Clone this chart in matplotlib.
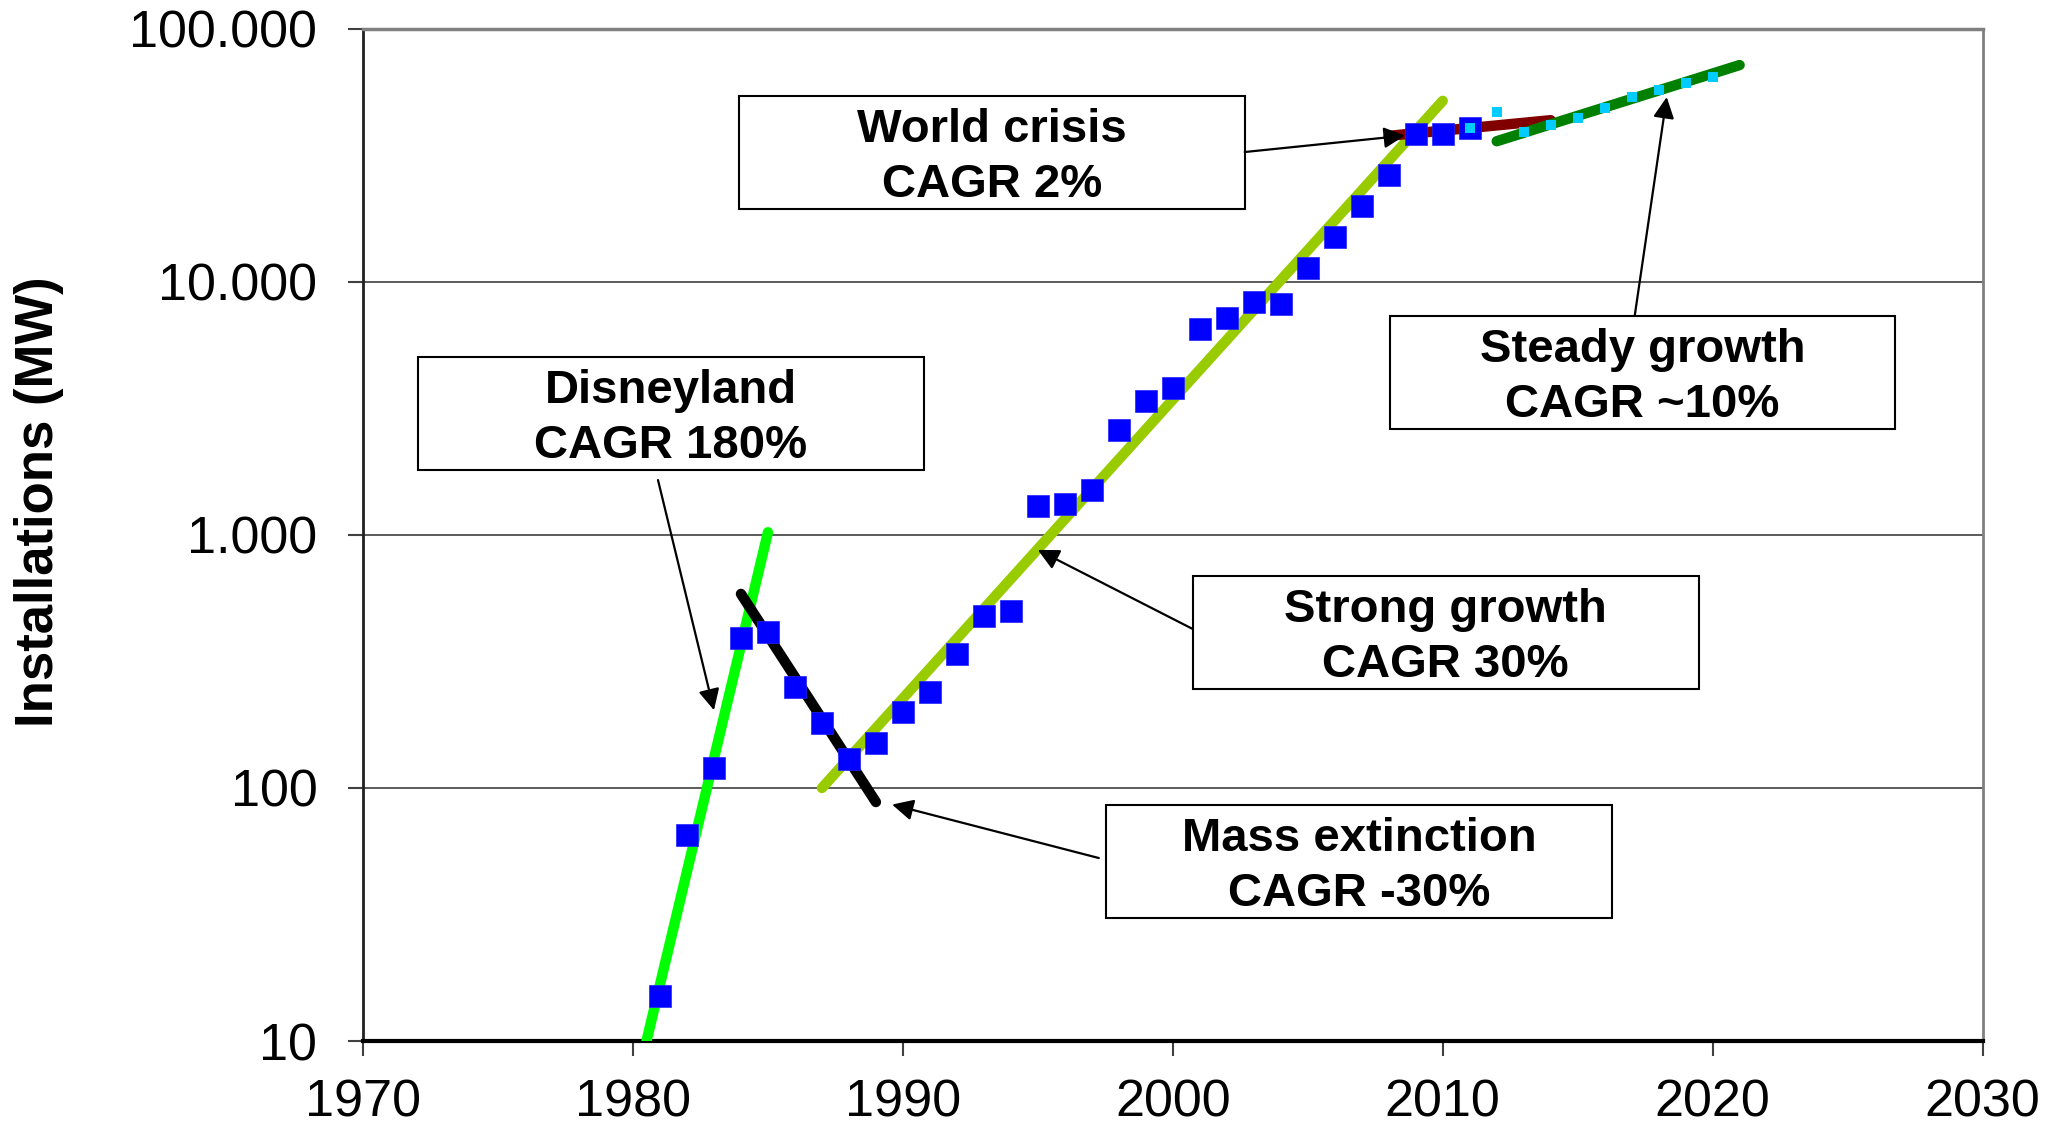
import matplotlib.pyplot as plt
from matplotlib.patches import Rectangle

# font: Arial look-alike
plt.rcParams['font.family'] = ['Liberation Sans', 'DejaVu Sans']

# installed capacity per year (MW)
years = list(range(1981, 2012))
installs = [15, 65, 120, 390, 415, 250, 180, 130, 150, 200,
            240, 340, 480, 500, 1300, 1320, 1500, 2600, 3400, 3800,
            6500, 7200, 8300, 8200, 11400, 15000, 20000, 26500, 38400, 38500,
            40600]

# forecast points
fc_years = list(range(2011, 2021))
fc_values = [40500, 47000, 39000, 41600, 44600, 48700, 53800, 57500, 61300, 64500]

# trend lines (start year, end year, start value, end value)
trend_names = ["Disneyland", "Mass extinction", "Strong growth", "World crisis", "Steady growth"]
trend_x0 = [1980.5, 1984.0, 1987.0, 2008.0, 2012.0]
trend_x1 = [1985.0, 1989.0, 2010.0, 2014.0, 2021.0]
trend_y0 = [10, 585, 100, 37800, 36000]
trend_y1 = [1025, 88, 52000, 43600, 72000]
trend_colors = ["#00ff00", "#000000", "#99cc00", "#800000", "#008000"]

# annotation boxes
box_texts = ["Disneyland\nCAGR 180%", "Mass extinction\nCAGR -30%",
             "Strong growth\nCAGR 30%", "World crisis\nCAGR 2%",
             "Steady growth\nCAGR ~10%"]
box_centers = [(0.1901, 0.6201), (0.6151, 0.1774), (0.6685, 0.4037),
               (0.3883, 0.878), (0.7901, 0.6606)]
arrow_from = [(0.1821, 0.5543), (0.4543, 0.1808), (0.5123, 0.4071),
              (0.5444, 0.8784), (0.7852, 0.7164)]
arrow_to = [(1983.0, 203), (1989.6, 86), (1995.0, 873),
            (2008.6, 37900), (2018.3, 53800)]

y_ticks = [10, 100, 1000, 10000, 100000]
y_labels = ["10", "100", "1.000", "10.000", "100.000"]
x_ticks = [1970, 1980, 1990, 2000, 2010, 2020, 2030]

fig = plt.figure(figsize=(20.63, 11.27), dpi=100)
ax = fig.add_axes([0.176, 0.0763, 0.785, 0.898])

# trend lines
for i in range(len(trend_names)):
    ax.plot([trend_x0[i], trend_x1[i]], [trend_y0[i], trend_y1[i]],
            color=trend_colors[i], lw=7.5, solid_capstyle='round', zorder=3)

# data
ax.plot(years, installs, 's', color='#0000ff', markersize=16,
        markeredgecolor='#2222ff', markeredgewidth=0.5, zorder=4)
ax.plot(fc_years, fc_values, 's', color='#00ccff', markersize=7,
        markeredgewidth=0, zorder=5)

ax.set_yscale('log')
ax.set_xlim(1970, 2030)
ax.set_ylim(10, 100000)
ax.set_yticks(y_ticks)
ax.set_yticklabels(y_labels)
ax.minorticks_off()
ax.set_xticks(x_ticks)
ax.tick_params(axis='both', labelsize=37.5, length=11, width=1.5,
               color='#404040', direction='out')
ax.tick_params(axis='y', pad=22)
ax.tick_params(axis='x', pad=16)
ax.grid(axis='y', color='#404040', lw=1.2)
ax.set_axisbelow(True)

ax.spines['left'].set_color('#202020')
ax.spines['left'].set_linewidth(2)
ax.spines['bottom'].set_color('#000000')
ax.spines['bottom'].set_linewidth(3)
ax.spines['top'].set_color('#808080')
ax.spines['top'].set_linewidth(2.5)
ax.spines['right'].set_color('#808080')
ax.spines['right'].set_linewidth(2)

fig.text(39 / 2063, 1 - 502 / 1127, "Installations (MW)", rotation=90,
         ha='center', va='center', fontsize=38, fontweight='bold')

# boxes and arrows
bw = 0.3123
bh = 0.1117
for i in range(len(box_texts)):
    cx, cy = box_centers[i]
    ax.add_patch(Rectangle((cx - bw / 2, cy - bh / 2), bw, bh,
                           transform=ax.transAxes, facecolor='white',
                           edgecolor='black', lw=1.5, zorder=6))
    ax.text(cx, cy - 0.005, box_texts[i], transform=ax.transAxes, ha='center',
            va='center', fontsize=34, fontweight='bold', linespacing=1.35,
            zorder=7)
    ax.annotate('', xy=arrow_to[i], xycoords='data',
                xytext=arrow_from[i], textcoords='axes fraction',
                arrowprops=dict(arrowstyle='-|>', color='black', lw=1.6,
                                mutation_scale=32, shrinkA=0, shrinkB=0),
                zorder=6)

fig.savefig("out.png", dpi=100)
